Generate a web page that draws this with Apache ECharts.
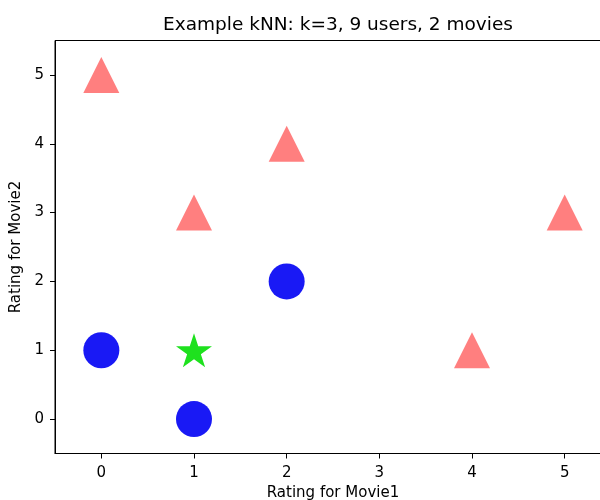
<!DOCTYPE html>
<html>
<head>
<meta charset="utf-8">
<script src="https://cdn.jsdelivr.net/npm/echarts@6/dist/echarts.min.js"></script>
<style>html,body{margin:0;padding:0;background:#fff;overflow:hidden;}#c{width:620px;height:500px;}</style>
</head>
<body>
<div id="c"></div>
<script>
// Data
const redUsers = [[0, 5], [2, 4], [1, 3], [5, 3], [4, 1]];
const blueUsers = [[2, 2], [0, 1], [1, 0]];
const queryUser = [[1, 1]];
const xTicks = [0, 1, 2, 3, 4, 5];
const yTicks = [0, 1, 2, 3, 4, 5];
const titleText = 'Example kNN: k=3, 9 users, 2 movies';
const xName = 'Rating for Movie1';
const yName = 'Rating for Movie2';

const font = 'DejaVu Sans';
const chart = echarts.init(document.getElementById('c'), null, {renderer: 'canvas'});
const axisCommon = {
  type: 'value',
  splitLine: {show: false},
  axisLine: {show: true, onZero: false, lineStyle: {color: '#000', width: 1}},
  axisTick: {show: true, inside: false, length: 5, lineStyle: {color: '#000', width: 1}},
  nameLocation: 'middle',
  nameTextStyle: {fontFamily: font, fontSize: 15, color: '#000'}
};
chart.setOption({
  animation: false,
  backgroundColor: '#fff',
  title: {
    text: titleText,
    left: 333, top: 11,
    textAlign: 'center',
    textStyle: {fontFamily: font, fontSize: 18.5, fontWeight: 'normal', color: '#000'}
  },
  grid: {left: 55, top: 40.5, width: 556, height: 413, show: true, borderColor: '#000', borderWidth: 1, backgroundColor: 'transparent', containLabel: false, outerBoundsMode: 'none'},
  xAxis: Object.assign({}, axisCommon, {
    min: -0.5, max: 5.5,
    name: xName, nameGap: 30,
    axisTick: Object.assign({}, axisCommon.axisTick, {customValues: xTicks}),
    axisLabel: {customValues: xTicks, margin: 12, fontFamily: font, fontSize: 15, color: '#000'}
  }),
  yAxis: Object.assign({}, axisCommon, {
    min: -0.5, max: 5.5,
    name: yName, nameGap: 25,
    axisTick: Object.assign({}, axisCommon.axisTick, {customValues: yTicks}),
    axisLabel: {customValues: yTicks, margin: 11, fontFamily: font, fontSize: 15, color: '#000'}
  }),
  series: [
    {type: 'scatter', data: redUsers, symbol: 'triangle', symbolSize: 36, itemStyle: {color: 'rgb(255,127,127)', opacity: 1}, clip: false},
    {type: 'scatter', data: blueUsers, symbol: 'circle', symbolSize: 36, itemStyle: {color: 'rgb(25,25,245)', opacity: 1}, clip: false},
    {type: 'scatter', data: queryUser, symbol: 'path://M0,-1 L0.2245,-0.309 L0.951,-0.309 L0.363,0.118 L0.588,0.809 L0,0.382 L-0.588,0.809 L-0.363,0.118 L-0.951,-0.309 L-0.2245,-0.309 Z', symbolSize: [36, 34], itemStyle: {color: 'rgb(30,225,30)', opacity: 1}, clip: false}
  ]
});
</script>
</body>
</html>
